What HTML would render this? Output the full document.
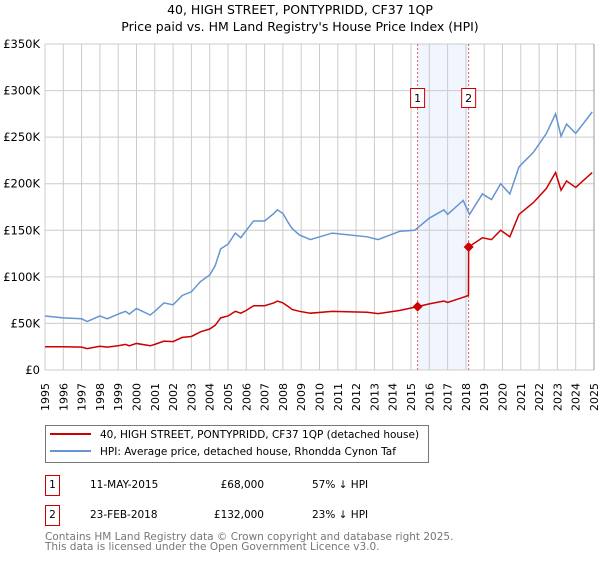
<!DOCTYPE html>
<html><head><meta charset="utf-8"><style>
body{margin:0;background:#fff;width:600px;height:560px;overflow:hidden;font-family:"DejaVu Sans","Liberation Sans",sans-serif}
svg text{font-family:"DejaVu Sans","Liberation Sans",sans-serif}
</style></head><body>
<svg id="c" width="600" height="560">
<text x="300" y="14" text-anchor="middle" font-size="12.5">40, HIGH STREET, PONTYPRIDD, CF37 1QP</text>
<text x="300" y="31" text-anchor="middle" font-size="12.5">Price paid vs. HM Land Registry's House Price Index (HPI)</text>
<g id="grid"></g><g id="plot"></g>
<rect x="45.5" y="425.5" width="383" height="37" fill="#fff" stroke="#777"/>
<line x1="50" y1="434" x2="91" y2="434" stroke="#cc0000" stroke-width="2"/>
<text x="100" y="438" font-size="10.5">40, HIGH STREET, PONTYPRIDD, CF37 1QP (detached house)</text>
<line x1="50" y1="451" x2="91" y2="451" stroke="#6495d2" stroke-width="2"/>
<text x="100" y="455" font-size="10.5">HPI: Average price, detached house, Rhondda Cynon Taf</text>
<g>
<rect x="45.5" y="475.5" width="14" height="20" fill="none" stroke="#cc0000"/><text x="52.5" y="488" text-anchor="middle" font-size="10.5">1</text>
<text x="90" y="488" font-size="10.5">11-MAY-2015</text><text x="264" y="488" text-anchor="end" font-size="10.5">£68,000</text><text x="312" y="488" font-size="10.5">57% ↓ HPI</text></g>
<g>
<rect x="45.5" y="505.5" width="14" height="20" fill="none" stroke="#cc0000"/><text x="52.5" y="518" text-anchor="middle" font-size="10.5">2</text>
<text x="90" y="518" font-size="10.5">23-FEB-2018</text><text x="264" y="518" text-anchor="end" font-size="10.5">£132,000</text><text x="312" y="518" font-size="10.5">23% ↓ HPI</text></g>
<text x="45" y="540" font-size="10.5" fill="#777">Contains HM Land Registry data © Crown copyright and database right 2025.</text>
<text x="45" y="550" font-size="10.5" fill="#777">This data is licensed under the Open Government Licence v3.0.</text>
</svg>
<script>
const hpiYears=[1995,1996,1997,1997.3,1998,1998.4,1999,1999.4,1999.6,2000,2000.75,2001,2001.5,2002,2002.5,2003,2003.5,2004,2004.3,2004.6,2005,2005.4,2005.7,2006,2006.4,2007,2007.5,2007.7,2008,2008.3,2008.5,2008.9,2009.5,2010.7,2012.6,2013.2,2014.4,2015.2,2016,2016.8,2017,2017.85,2018.2,2018.9,2019.4,2019.9,2020.4,2020.9,2021.7,2022.4,2022.9,2023.2,2023.5,2024,2024.9];
const hpiValues=[58,56,55,52,58,55,60,63,60,66,59,63,72,70,80,84,95,102,112,130,135,147,142,150,160,160,168,172,168,158,152,145,140,147,143,140,149,150,163,172,167,182,167,189,183,200,189,218,234,254,275,251,264,254,277];
const redYears=[1995,1996,1997,1997.3,1998,1998.4,1999,1999.4,1999.6,2000,2000.75,2001,2001.5,2002,2002.5,2003,2003.5,2004,2004.3,2004.6,2005,2005.4,2005.7,2006,2006.4,2007,2007.5,2007.7,2008,2008.3,2008.5,2008.9,2009.5,2010.7,2012.6,2013.2,2014.4,2015.36,2016,2016.8,2017,2017.85,2018.14,2018.15,2018.9,2019.4,2019.9,2020.4,2020.9,2021.7,2022.4,2022.9,2023.2,2023.5,2024,2024.9];
const redValues=[25,25,24.5,23,25.5,24.5,26,27.5,26,28.5,26,27.5,31,30.5,35,36,41,44,48,56,58,63,61,64,69,69,72,74,72,68,65,63,61,63,62,60.5,64,68,71,74,72.5,78,80,132,142,140,150,143,167,180,195,212,193,203,196,212];
const saleYears=[2015.36,2018.15];
const saleValues=[68,132];
const saleLabels=["1","2"];
const yTicks=[0,50,100,150,200,250,300,350];
const yTickLabels=["£0","£50K","£100K","£150K","£200K","£250K","£300K","£350K"];
const xTicks=[1995,1996,1997,1998,1999,2000,2001,2002,2003,2004,2005,2006,2007,2008,2009,2010,2011,2012,2013,2014,2015,2016,2017,2018,2019,2020,2021,2022,2023,2024,2025];

const X0=45,X1=594,Y0=370,Y1=44;
const sx=y=>X0+(y-1995)/30*(X1-X0);
const sy=v=>Y0-v/350*(Y0-Y1);
const NS="http://www.w3.org/2000/svg";
function mk(p,tag,at){const e=document.createElementNS(NS,tag);for(const k in at)e.setAttribute(k,at[k]);p.appendChild(e);return e;}
const g=document.getElementById('grid'),pl=document.getElementById('plot');
const band=mk(g,'rect',{x:sx(saleYears[0]),y:Y1,width:sx(saleYears[1])-sx(saleYears[0]),height:Y0-Y1,fill:'#eef3fc',opacity:0.8});


xTicks.forEach(t=>{
  const l=mk(g,'line',{x1:sx(t),x2:sx(t),y1:Y1,y2:Y0,stroke:'#ccc','stroke-width':1});
  
  
  const tx=mk(g,'text',{x:0,y:0,transform:`translate(${sx(t)+4},383) rotate(-90)`,'text-anchor':'end','font-size':11});
  tx.textContent=t;
  
  
});
yTicks.forEach((t,i)=>{
  const l=mk(g,'line',{x1:X0,x2:X1,y1:sy(t),y2:sy(t),stroke:'#ccc','stroke-width':1});
  
  
  const tx=mk(g,'text',{x:40,y:sy(t)+4,'text-anchor':'end','font-size':11.5});
  tx.textContent=yTickLabels[i];
  
  
});
const rb=mk(g,'line',{x1:X1,x2:X1,y1:Y1,y2:Y0,stroke:'#999','stroke-width':1});


saleYears.forEach((y,i)=>{
  const l=mk(pl,'line',{x1:sx(y),x2:sx(y),y1:Y1,y2:Y0,stroke:'#e06060','stroke-width':1,'stroke-dasharray':'2,2'});
  
  
});
const hp=mk(pl,'polyline',{points:hpiYears.map((y,i)=>sx(y)+','+sy(hpiValues[i])).join(' '),fill:'none',stroke:'#6495d2','stroke-width':1.5});


const rp=mk(pl,'polyline',{points:redYears.map((y,i)=>sx(y)+','+sy(redValues[i])).join(' '),fill:'none',stroke:'#cc0000','stroke-width':1.5});


saleYears.forEach((y,i)=>{
  const x=sx(y),v=sy(saleValues[i]);
  const d=mk(pl,'polygon',{points:`${x},${v-5} ${x+5},${v} ${x},${v+5} ${x-5},${v}`,fill:'#cc0000'});
  
  
  const b=mk(pl,'rect',{x:x-7,y:88.5,width:14,height:19,fill:'#fff',stroke:'#cc0000'});
  
  
  const t=mk(pl,'text',{x:x,y:102,'text-anchor':'middle','font-size':11});
  t.textContent=saleLabels[i];
  
  
});
</script>
</body></html>
